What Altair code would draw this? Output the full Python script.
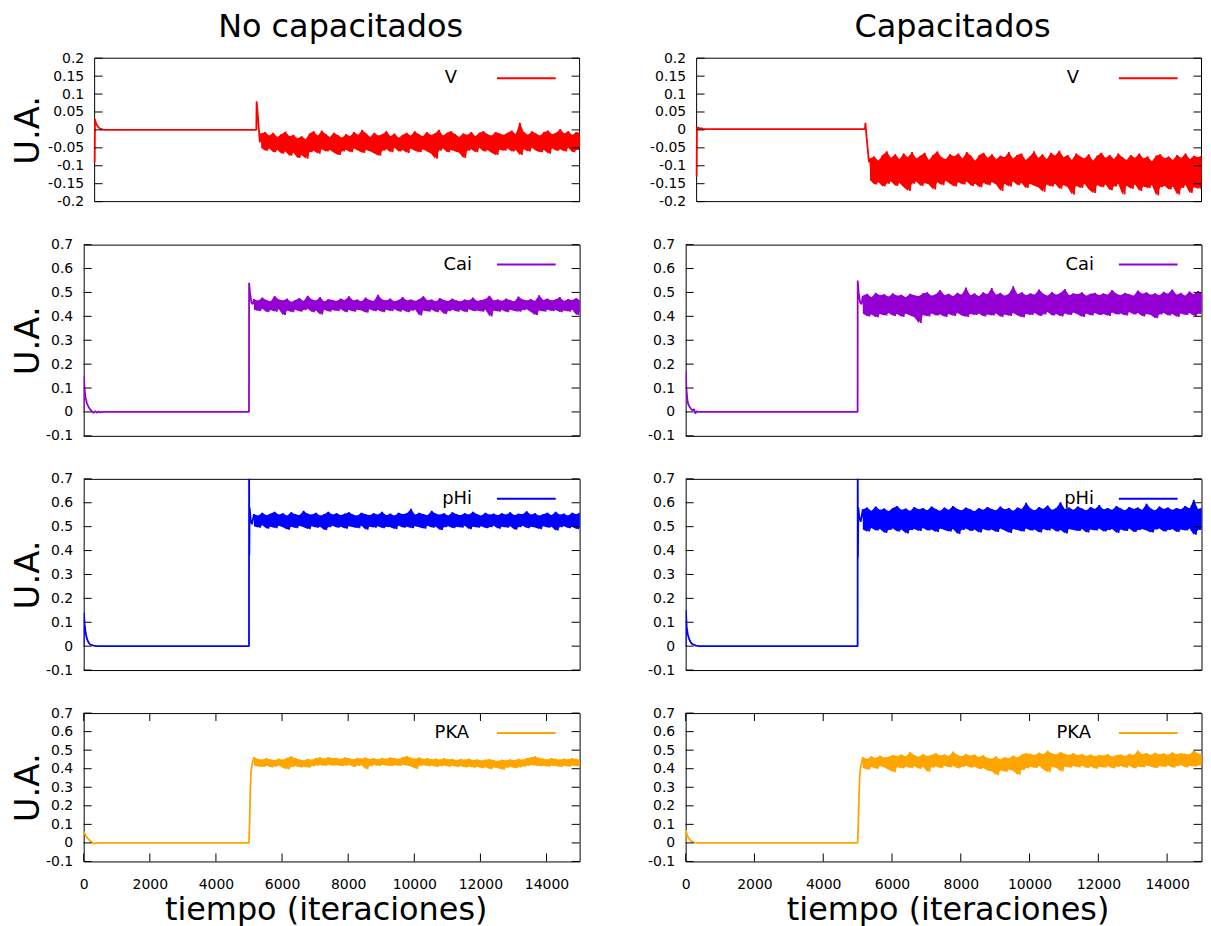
import altair as alt
import pandas as pd

FONT = "DejaVu Sans"
X_DOMAIN = [0, 15000]
X_TICKS = [0, 2000, 4000, 6000, 8000, 10000, 12000, 14000]
Y_TICKS_V = [-0.2, -0.15, -0.1, -0.05, 0, 0.05, 0.1, 0.15, 0.2]
Y_TICKS_O = [-0.1, 0, 0.1, 0.2, 0.3, 0.4, 0.5, 0.6, 0.7]
COL_TITLES = ["No capacitados", "Capacitados"]
X_TITLE = "tiempo (iteraciones)"
Y_TITLE = "U.A."
NAMES = ["V", "Cai", "pHi", "PKA"]
COLORS = ["#ff0000", "#9400d3", "#0000ff", "#ffa500"]

# noise part: local maxima (hi) and minima (lo), every 125 iterations from 5150
NOISE_X0 = 5150
NOISE_STEP = 125

# ---------------- V, no capacitados ----------------
v_nc_start_x = [0, 10, 40, 80, 130, 200, 300, 5000]
v_nc_start_y = [-0.09, 0.03, 0.02, 0.012, 0.006, 0.002, 0.0, 0.0]
v_nc_jump_x = [5010, 5040, 5080, 5110]
v_nc_jump_y = [0.08, 0.05, 0.0, -0.035]
v_nc_hi = [-0.010, -0.006, -0.016, -0.008, -0.020, -0.012, -0.005, -0.018, -0.014, -0.024,
           -0.018, -0.026, -0.010, -0.004, -0.016, -0.002, -0.012, -0.020, -0.008, -0.015,
           -0.022, -0.012, -0.018, -0.006, -0.014, 0.000, -0.010, -0.020, -0.008, -0.016,
           -0.012, -0.004, -0.018, -0.010, -0.022, -0.014, -0.008, -0.016, -0.004, -0.012,
           -0.018, -0.006, -0.014, -0.010, 0.000, -0.016, -0.008, -0.004, -0.012, -0.020,
           -0.010, -0.014, -0.006, -0.018, -0.008, -0.004, -0.012, -0.016, -0.006, -0.010,
           -0.014, -0.008, -0.002, -0.012, 0.020, -0.006, -0.014, -0.004, -0.010, -0.016,
           -0.006, -0.002, -0.012, -0.008, 0.002, -0.010, -0.004, -0.014, -0.006, -0.010]
v_nc_lo = [-0.050, -0.058, -0.052, -0.062, -0.056, -0.066, -0.060, -0.072, -0.064, -0.078,
           -0.070, -0.080, -0.062, -0.058, -0.066, -0.054, -0.060, -0.056, -0.064, -0.070,
           -0.060, -0.055, -0.062, -0.052, -0.058, -0.064, -0.056, -0.060, -0.066, -0.072,
           -0.058, -0.054, -0.062, -0.050, -0.060, -0.056, -0.064, -0.052, -0.058, -0.062,
           -0.054, -0.060, -0.066, -0.080, -0.058, -0.052, -0.062, -0.056, -0.060, -0.064,
           -0.078, -0.058, -0.054, -0.062, -0.050, -0.060, -0.056, -0.064, -0.070, -0.055,
           -0.058, -0.052, -0.060, -0.056, -0.070, -0.054, -0.060, -0.050, -0.058, -0.062,
           -0.056, -0.066, -0.052, -0.058, -0.054, -0.060, -0.050, -0.062, -0.056, -0.052]

# ---------------- V, capacitados ----------------
v_c_start_x = [0, 8, 20, 40, 60, 90, 130, 180, 250, 5000]
v_c_start_y = [-0.13, 0.0, 0.008, 0.002, 0.007, 0.002, 0.005, 0.003, 0.002, 0.002]
v_c_jump_x = [5015, 5050, 5090, 5120]
v_c_jump_y = [0.02, -0.02, -0.06, -0.09]
v_c_hi = [-0.080, -0.074, -0.086, -0.070, -0.060, -0.078, -0.068, -0.082, -0.066, -0.076,
          -0.062, -0.080, -0.072, -0.064, -0.084, -0.070, -0.060, -0.076, -0.082, -0.068,
          -0.074, -0.066, -0.080, -0.062, -0.072, -0.086, -0.070, -0.064, -0.078, -0.068,
          -0.082, -0.072, -0.076, -0.062, -0.080, -0.070, -0.066, -0.084, -0.074, -0.060,
          -0.078, -0.068, -0.082, -0.064, -0.072, -0.058, -0.076, -0.070, -0.084, -0.066,
          -0.074, -0.080, -0.068, -0.086, -0.072, -0.064, -0.078, -0.070, -0.082, -0.066,
          -0.076, -0.084, -0.070, -0.078, -0.066, -0.080, -0.074, -0.088, -0.072, -0.068,
          -0.080, -0.074, -0.084, -0.070, -0.078, -0.066, -0.082, -0.072, -0.076, -0.070]
v_c_lo = [-0.140, -0.152, -0.146, -0.158, -0.150, -0.144, -0.156, -0.148, -0.160, -0.170,
          -0.150, -0.144, -0.156, -0.148, -0.152, -0.166, -0.146, -0.154, -0.142, -0.150,
          -0.158, -0.146, -0.152, -0.144, -0.156, -0.150, -0.160, -0.148, -0.154, -0.146,
          -0.152, -0.170, -0.150, -0.158, -0.144, -0.154, -0.148, -0.162, -0.150, -0.156,
          -0.160, -0.172, -0.152, -0.158, -0.150, -0.164, -0.154, -0.160, -0.180, -0.156,
          -0.162, -0.150, -0.166, -0.176, -0.154, -0.160, -0.152, -0.168, -0.158, -0.150,
          -0.180, -0.156, -0.164, -0.152, -0.170, -0.158, -0.162, -0.154, -0.182, -0.160,
          -0.156, -0.166, -0.158, -0.180, -0.162, -0.154, -0.176, -0.160, -0.164, -0.150]

# ---------------- Cai, no capacitados ----------------
cai_nc_start_x = [0, 8, 25, 50, 100, 150, 200, 250, 300, 350, 400, 450, 500, 560, 5000]
cai_nc_start_y = [0.0, 0.15, 0.1, 0.065, 0.035, 0.02, 0.01, 0.002, -0.004, 0.003, -0.003, 0.002, -0.002, 0.0, 0.0]
cai_nc_jump_x = [5003, 5030, 5070, 5110]
cai_nc_jump_y = [0.54, 0.5, 0.46, 0.45]
cai_nc_hi = [0.472, 0.465, 0.478, 0.468, 0.462, 0.485, 0.470, 0.466, 0.474, 0.460,
             0.468, 0.476, 0.464, 0.486, 0.470, 0.466, 0.480, 0.462, 0.472, 0.468,
             0.464, 0.474, 0.468, 0.484, 0.466, 0.470, 0.462, 0.478, 0.468, 0.464,
             0.490, 0.470, 0.466, 0.474, 0.462, 0.468, 0.480, 0.466, 0.470, 0.464,
             0.472, 0.484, 0.466, 0.470, 0.462, 0.476, 0.468, 0.464, 0.474, 0.466,
             0.462, 0.470, 0.466, 0.478, 0.464, 0.468, 0.472, 0.486, 0.466, 0.470,
             0.464, 0.474, 0.468, 0.462, 0.482, 0.470, 0.466, 0.472, 0.464, 0.488,
             0.468, 0.474, 0.466, 0.470, 0.480, 0.464, 0.472, 0.468, 0.476, 0.466]
cai_nc_lo = [0.428, 0.422, 0.432, 0.418, 0.426, 0.420, 0.430, 0.406, 0.424, 0.418,
             0.428, 0.420, 0.426, 0.432, 0.418, 0.424, 0.408, 0.428, 0.420, 0.426,
             0.422, 0.430, 0.418, 0.426, 0.420, 0.428, 0.424, 0.416, 0.430, 0.422,
             0.426, 0.418, 0.428, 0.422, 0.430, 0.420, 0.426, 0.418, 0.424, 0.428,
             0.404, 0.424, 0.420, 0.428, 0.418, 0.426, 0.410, 0.422, 0.428, 0.420,
             0.426, 0.418, 0.430, 0.422, 0.424, 0.420, 0.428, 0.400, 0.424, 0.420,
             0.426, 0.418, 0.428, 0.422, 0.420, 0.426, 0.430, 0.418, 0.406, 0.424,
             0.420, 0.428, 0.422, 0.426, 0.418, 0.424, 0.420, 0.428, 0.406, 0.422]

# ---------------- Cai, capacitados ----------------
cai_c_start_x = [0, 6, 20, 50, 80, 120, 160, 200, 240, 280, 320, 360, 5000]
cai_c_start_y = [0.11, 0.17, 0.1, 0.05, 0.03, 0.02, 0.012, 0.006, 0.012, -0.006, 0.002, 0.0, 0.0]
cai_c_jump_x = [5003, 5030, 5070, 5110]
cai_c_jump_y = [0.55, 0.5, 0.46, 0.45]
cai_c_hi = [0.486, 0.494, 0.480, 0.498, 0.488, 0.492, 0.482, 0.496, 0.486, 0.490,
            0.480, 0.494, 0.488, 0.484, 0.496, 0.500, 0.486, 0.492, 0.510, 0.488,
            0.494, 0.484, 0.498, 0.490, 0.520, 0.488, 0.496, 0.484, 0.500, 0.492,
            0.518, 0.490, 0.498, 0.486, 0.494, 0.526, 0.492, 0.500, 0.488, 0.496,
            0.490, 0.512, 0.494, 0.486, 0.502, 0.490, 0.498, 0.514, 0.488, 0.496,
            0.492, 0.500, 0.486, 0.494, 0.498, 0.488, 0.496, 0.490, 0.510, 0.494,
            0.488, 0.498, 0.492, 0.486, 0.508, 0.494, 0.500, 0.490, 0.496, 0.488,
            0.502, 0.494, 0.512, 0.490, 0.498, 0.486, 0.504, 0.492, 0.506, 0.496]
cai_c_lo = [0.412, 0.400, 0.408, 0.396, 0.410, 0.404, 0.414, 0.402, 0.410, 0.398,
            0.412, 0.404, 0.396, 0.372, 0.406, 0.400, 0.412, 0.404, 0.408, 0.398,
            0.410, 0.402, 0.414, 0.404, 0.398, 0.410, 0.406, 0.412, 0.400, 0.408,
            0.404, 0.412, 0.398, 0.408, 0.402, 0.414, 0.404, 0.396, 0.410, 0.406,
            0.414, 0.402, 0.408, 0.418, 0.404, 0.410, 0.400, 0.412, 0.406, 0.416,
            0.408, 0.398, 0.412, 0.404, 0.414, 0.406, 0.410, 0.402, 0.416, 0.408,
            0.412, 0.404, 0.418, 0.408, 0.414, 0.400, 0.410, 0.406, 0.392, 0.408,
            0.414, 0.404, 0.410, 0.398, 0.412, 0.406, 0.414, 0.402, 0.410, 0.418]

# ---------------- pHi, no capacitados ----------------
phi_nc_start_x = [0, 6, 30, 60, 100, 150, 200, 300, 400, 5000]
phi_nc_start_y = [0.0, 0.14, 0.09, 0.055, 0.03, 0.015, 0.007, 0.002, 0.0, 0.0]
phi_nc_jump_x = [5003, 5010, 5020, 5050, 5090]
phi_nc_jump_y = [0.8, 0.38, 0.58, 0.53, 0.51]
phi_nc_hi = [0.552, 0.546, 0.558, 0.548, 0.554, 0.562, 0.550, 0.556, 0.546, 0.560,
             0.552, 0.548, 0.566, 0.554, 0.550, 0.558, 0.546, 0.552, 0.562, 0.550,
             0.556, 0.548, 0.554, 0.560, 0.550, 0.546, 0.558, 0.552, 0.548, 0.556,
             0.550, 0.562, 0.548, 0.554, 0.546, 0.558, 0.552, 0.556, 0.574, 0.550,
             0.558, 0.552, 0.548, 0.566, 0.554, 0.550, 0.556, 0.546, 0.560, 0.552,
             0.548, 0.556, 0.550, 0.562, 0.552, 0.546, 0.558, 0.550, 0.554, 0.548,
             0.556, 0.550, 0.560, 0.548, 0.554, 0.552, 0.564, 0.550, 0.556, 0.546,
             0.552, 0.558, 0.548, 0.562, 0.550, 0.554, 0.546, 0.558, 0.552, 0.560]
phi_nc_lo = [0.502, 0.496, 0.506, 0.492, 0.500, 0.494, 0.504, 0.498, 0.488, 0.500,
             0.494, 0.504, 0.498, 0.490, 0.502, 0.496, 0.500, 0.486, 0.498, 0.504,
             0.496, 0.500, 0.492, 0.502, 0.498, 0.494, 0.504, 0.488, 0.500, 0.496,
             0.502, 0.494, 0.500, 0.498, 0.490, 0.504, 0.496, 0.500, 0.494, 0.502,
             0.498, 0.492, 0.504, 0.496, 0.500, 0.486, 0.498, 0.502, 0.494, 0.500,
             0.496, 0.504, 0.490, 0.500, 0.496, 0.502, 0.494, 0.498, 0.504, 0.492,
             0.500, 0.496, 0.502, 0.488, 0.498, 0.504, 0.494, 0.500, 0.496, 0.490,
             0.502, 0.496, 0.500, 0.484, 0.498, 0.502, 0.494, 0.500, 0.490, 0.498]

# ---------------- pHi, capacitados ----------------
phi_c_start_x = [0, 6, 30, 60, 100, 150, 200, 300, 400, 5000]
phi_c_start_y = [0.0, 0.15, 0.08, 0.05, 0.03, 0.015, 0.008, 0.002, 0.0, 0.0]
phi_c_jump_x = [5003, 5010, 5020, 5050, 5090]
phi_c_jump_y = [0.8, 0.37, 0.58, 0.54, 0.52]
phi_c_hi = [0.572, 0.580, 0.566, 0.584, 0.570, 0.576, 0.564, 0.578, 0.586, 0.570,
            0.576, 0.566, 0.582, 0.572, 0.578, 0.568, 0.584, 0.574, 0.566, 0.580,
            0.570, 0.586, 0.574, 0.568, 0.580, 0.572, 0.564, 0.578, 0.570, 0.582,
            0.574, 0.568, 0.584, 0.572, 0.578, 0.566, 0.580, 0.574, 0.600, 0.576,
            0.568, 0.582, 0.574, 0.588, 0.570, 0.578, 0.602, 0.574, 0.580, 0.570,
            0.584, 0.576, 0.568, 0.582, 0.574, 0.590, 0.572, 0.578, 0.570, 0.586,
            0.576, 0.568, 0.582, 0.574, 0.580, 0.570, 0.596, 0.576, 0.568, 0.584,
            0.574, 0.580, 0.570, 0.578, 0.572, 0.586, 0.576, 0.612, 0.574, 0.580]
phi_c_lo = [0.488, 0.480, 0.494, 0.484, 0.490, 0.474, 0.486, 0.492, 0.480, 0.488,
            0.472, 0.486, 0.490, 0.482, 0.494, 0.484, 0.488, 0.478, 0.492, 0.486,
            0.480, 0.490, 0.470, 0.486, 0.492, 0.482, 0.488, 0.476, 0.490, 0.484,
            0.488, 0.478, 0.492, 0.484, 0.474, 0.490, 0.486, 0.480, 0.492, 0.484,
            0.488, 0.476, 0.490, 0.484, 0.492, 0.480, 0.486, 0.472, 0.490, 0.486,
            0.482, 0.490, 0.476, 0.488, 0.484, 0.492, 0.480, 0.486, 0.490, 0.474,
            0.488, 0.482, 0.492, 0.478, 0.486, 0.490, 0.484, 0.476, 0.488, 0.492,
            0.480, 0.486, 0.490, 0.478, 0.488, 0.484, 0.492, 0.466, 0.486, 0.490]

# ---------------- PKA, no capacitados ----------------
pka_nc_start_x = [0, 20, 50, 80, 120, 160, 200, 250, 300, 350, 420, 5000]
pka_nc_start_y = [0.06, 0.055, 0.045, 0.035, 0.025, 0.018, 0.01, 0.004, -0.004, -0.002, 0.0, 0.0]
pka_nc_jump_x = [5020, 5040, 5060, 5090, 5120]
pka_nc_jump_y = [0.12, 0.28, 0.38, 0.42, 0.44]
pka_nc_hi = [0.462, 0.452, 0.448, 0.456, 0.450, 0.446, 0.454, 0.448, 0.458, 0.466,
             0.456, 0.450, 0.444, 0.452, 0.448, 0.456, 0.460, 0.454, 0.462, 0.456,
             0.458, 0.452, 0.460, 0.456, 0.450, 0.458, 0.454, 0.460, 0.452, 0.456,
             0.450, 0.458, 0.454, 0.460, 0.456, 0.452, 0.462, 0.468, 0.458, 0.454,
             0.460, 0.452, 0.456, 0.450, 0.454, 0.448, 0.456, 0.450, 0.452, 0.446,
             0.452, 0.448, 0.454, 0.446, 0.450, 0.444, 0.448, 0.452, 0.446, 0.442,
             0.448, 0.444, 0.450, 0.446, 0.452, 0.448, 0.456, 0.460, 0.466, 0.458,
             0.454, 0.450, 0.456, 0.452, 0.448, 0.454, 0.450, 0.456, 0.452, 0.448]
pka_nc_lo = [0.418, 0.412, 0.410, 0.416, 0.408, 0.412, 0.418, 0.404, 0.398, 0.410,
             0.414, 0.408, 0.412, 0.406, 0.414, 0.418, 0.420, 0.416, 0.422, 0.418,
             0.420, 0.414, 0.418, 0.422, 0.410, 0.416, 0.420, 0.398, 0.414, 0.420,
             0.416, 0.422, 0.418, 0.414, 0.420, 0.416, 0.422, 0.418, 0.412, 0.400,
             0.416, 0.420, 0.414, 0.418, 0.410, 0.414, 0.418, 0.412, 0.416, 0.410,
             0.414, 0.408, 0.412, 0.406, 0.410, 0.404, 0.408, 0.398, 0.406, 0.402,
             0.396, 0.406, 0.410, 0.404, 0.408, 0.412, 0.416, 0.420, 0.418, 0.414,
             0.416, 0.412, 0.418, 0.414, 0.410, 0.416, 0.412, 0.418, 0.414, 0.420]

# ---------------- PKA, capacitados ----------------
pka_c_start_x = [0, 5, 30, 60, 100, 150, 200, 260, 320, 5000]
pka_c_start_y = [0.0, 0.07, 0.05, 0.035, 0.022, 0.012, 0.006, 0.002, 0.0, 0.0]
pka_c_jump_x = [5020, 5040, 5060, 5090, 5120]
pka_c_jump_y = [0.1, 0.25, 0.36, 0.41, 0.43]
pka_c_hi = [0.462, 0.452, 0.466, 0.458, 0.470, 0.460, 0.464, 0.474, 0.468, 0.476,
            0.466, 0.490, 0.472, 0.464, 0.478, 0.468, 0.474, 0.484, 0.470, 0.476,
            0.468, 0.492, 0.474, 0.466, 0.480, 0.470, 0.476, 0.462, 0.472, 0.458,
            0.454, 0.466, 0.450, 0.462, 0.456, 0.470, 0.460, 0.476, 0.484, 0.480,
            0.474, 0.486, 0.478, 0.496, 0.482, 0.476, 0.490, 0.480, 0.474, 0.484,
            0.472, 0.480, 0.468, 0.476, 0.466, 0.474, 0.470, 0.478, 0.464, 0.472,
            0.476, 0.468, 0.480, 0.472, 0.498, 0.478, 0.484, 0.474, 0.486, 0.476,
            0.482, 0.474, 0.488, 0.478, 0.484, 0.480, 0.476, 0.498, 0.482, 0.478]
pka_c_lo = [0.404, 0.396, 0.410, 0.400, 0.414, 0.406, 0.394, 0.382, 0.408, 0.402,
            0.412, 0.404, 0.414, 0.400, 0.410, 0.384, 0.406, 0.412, 0.404, 0.416,
            0.408, 0.414, 0.402, 0.410, 0.416, 0.406, 0.412, 0.398, 0.404, 0.390,
            0.386, 0.366, 0.392, 0.384, 0.396, 0.388, 0.368, 0.394, 0.402, 0.410,
            0.404, 0.414, 0.396, 0.382, 0.410, 0.404, 0.386, 0.412, 0.406, 0.414,
            0.408, 0.416, 0.404, 0.412, 0.400, 0.410, 0.406, 0.414, 0.402, 0.410,
            0.414, 0.406, 0.416, 0.402, 0.412, 0.408, 0.418, 0.410, 0.404, 0.414,
            0.410, 0.418, 0.406, 0.414, 0.420, 0.408, 0.416, 0.412, 0.418, 0.422]

# ---------------- layout / style ----------------
TICK = 8
LEG_Y = 20
LEG_OFF = {"V": 123, "Cai": 108, "pHi": 108, "PKA": 111}
WIDTHS = [498, 518]            # plot width of each column
ROW1_SHIFT = 11                # top row frame starts further right (wider tick labels)
HEIGHTS = [144, 192, 192, 149]
EXTENT = 38
XTITLE_X = [243, 263]
XTITLE_Y = 58
COL_TITLE_DX = [3.5, 3.5]
COL_TITLE_Y = -21.5
LABEL_EXPR = "datum.value < 0 ? '-' + format(-datum.value, '~g') : format(datum.value, '~g')"


def build(sx, sy, jx, jy, hi, lo):
    xs = list(sx) + list(jx)
    ys = list(sy) + list(jy)
    for k in range(len(hi)):
        xs += [NOISE_X0 + NOISE_STEP * k, NOISE_X0 + NOISE_STEP * k + NOISE_STEP / 2]
        ys += [hi[k], lo[k]]
    return xs, ys


SERIES = {
    (0, 0): (v_nc_start_x, v_nc_start_y, v_nc_jump_x, v_nc_jump_y, v_nc_hi, v_nc_lo),
    (0, 1): (v_c_start_x, v_c_start_y, v_c_jump_x, v_c_jump_y, v_c_hi, v_c_lo),
    (1, 0): (cai_nc_start_x, cai_nc_start_y, cai_nc_jump_x, cai_nc_jump_y, cai_nc_hi, cai_nc_lo),
    (1, 1): (cai_c_start_x, cai_c_start_y, cai_c_jump_x, cai_c_jump_y, cai_c_hi, cai_c_lo),
    (2, 0): (phi_nc_start_x, phi_nc_start_y, phi_nc_jump_x, phi_nc_jump_y, phi_nc_hi, phi_nc_lo),
    (2, 1): (phi_c_start_x, phi_c_start_y, phi_c_jump_x, phi_c_jump_y, phi_c_hi, phi_c_lo),
    (3, 0): (pka_nc_start_x, pka_nc_start_y, pka_nc_jump_x, pka_nc_jump_y, pka_nc_hi, pka_nc_lo),
    (3, 1): (pka_c_start_x, pka_c_start_y, pka_c_jump_x, pka_c_jump_y, pka_c_hi, pka_c_lo),
}


def panel(row, col):
    name, color = NAMES[row], COLORS[row]
    W, H = WIDTHS[col], HEIGHTS[row]
    x0 = ROW1_SHIFT if row == 0 else 0
    yticks = Y_TICKS_V if row == 0 else Y_TICKS_O
    ydom = [yticks[0], yticks[-1]]
    sx, sy, jx, jy, hi, lo = SERIES[(row, col)]
    xs, ys = build(sx, sy, jx, jy, hi, lo)
    df = pd.DataFrame({"x": xs, "y": ys, "o": list(range(len(xs)))})
    band = pd.DataFrame({"x": [NOISE_X0 + NOISE_STEP * k for k in range(len(hi))],
                         "hi": hi, "lo": lo})
    if x0:
        xscale = alt.Scale(domain=X_DOMAIN, nice=False, zero=False, range=[x0, W])
    else:
        xscale = alt.Scale(domain=X_DOMAIN, nice=False, zero=False)
    yscale = alt.Scale(domain=ydom, nice=False, zero=False)
    yaxis = alt.Axis(values=yticks, labelExpr=LABEL_EXPR, title=Y_TITLE,
                     titleColor="black" if col == 0 else "white", titleFontSize=34,
                     minExtent=EXTENT + x0, maxExtent=EXTENT + x0, titlePadding=0,
                     offset=-x0)
    bottom = row == 3
    if bottom:
        xaxis = alt.Axis(values=X_TICKS, format="d", labelFlush=False, labelOverlap=False,
                         labelPadding=16, title=X_TITLE, titleX=XTITLE_X[col],
                         titleY=XTITLE_Y, titleBaseline="alphabetic", titleAlign="center")
    else:
        xaxis = None

    layers = []
    if x0:
        frame = alt.Chart(pd.DataFrame({"s": [name]})).mark_rect(
            fill="transparent", stroke="black", strokeWidth=1).encode(
            x=alt.value(x0), x2=alt.value(W), y=alt.value(0), y2=alt.value(H))
        layers.append(frame)
    area = alt.Chart(band).mark_area(color=color, clip=True, opacity=1).encode(
        x=alt.X("x:Q", scale=xscale, axis=xaxis),
        y=alt.Y("hi:Q", scale=yscale, axis=yaxis),
        y2="lo:Q",
    )
    line = alt.Chart(df).mark_line(color=color, strokeWidth=1.8, strokeJoin="bevel", clip=True).encode(
        x=alt.X("x:Q", scale=xscale, axis=xaxis),
        y=alt.Y("y:Q", scale=yscale, axis=yaxis),
        order="o:Q",
    )
    layers += [area, line]
    ydf = pd.DataFrame({"t": yticks})
    lt = alt.Chart(ydf).mark_rule(color="black", strokeWidth=1).encode(
        y=alt.Y("t:Q", scale=yscale, axis=yaxis), x=alt.value(x0), x2=alt.value(x0 + TICK))
    rt = alt.Chart(ydf).mark_rule(color="black", strokeWidth=1).encode(
        y=alt.Y("t:Q", scale=yscale, axis=yaxis), x=alt.value(W - TICK), x2=alt.value(W))
    layers += [lt, rt]
    if bottom:
        xdf = pd.DataFrame({"t": X_TICKS})
        bt = alt.Chart(xdf).mark_rule(color="black", strokeWidth=1).encode(
            x=alt.X("t:Q", scale=xscale, axis=xaxis), y=alt.value(H), y2=alt.value(H - TICK))
        tt = alt.Chart(xdf).mark_rule(color="black", strokeWidth=1).encode(
            x=alt.X("t:Q", scale=xscale, axis=xaxis), y=alt.value(0), y2=alt.value(TICK))
        layers += [bt, tt]
    ldf = pd.DataFrame({"s": [name]})
    ltxt = alt.Chart(ldf).mark_text(align="right", baseline="middle", font=FONT, fontSize=18,
                                    color="black").encode(
        text="s:N", x=alt.value(W - LEG_OFF[name]), y=alt.value(LEG_Y))
    lline = alt.Chart(ldf).mark_rule(color=color, strokeWidth=2).encode(
        x=alt.value(W - 83), x2=alt.value(W - 24), y=alt.value(LEG_Y))
    layers += [ltxt, lline]
    if row == 0:
        tdf = pd.DataFrame({"s": [COL_TITLES[col]]})
        ttl = alt.Chart(tdf).mark_text(align="center", baseline="alphabetic", font=FONT,
                                       fontSize=32, color="black").encode(
            text="s:N", x=alt.value((x0 + W) / 2 + COL_TITLE_DX[col]), y=alt.value(COL_TITLE_Y))
        layers.append(ttl)
    ch = alt.layer(*layers).properties(width=W, height=H)
    if x0:
        ch = ch.properties(view=alt.ViewBackground(stroke="transparent"))
    return ch


panels = [panel(r, c) for r in range(4) for c in range(2)]

chart = alt.concat(*panels, columns=2,
                   spacing={"row": 27.2, "column": 32.5}).properties(
    padding={"left": 3, "top": 0.5, "right": 0, "bottom": 0}
).configure_view(stroke="black", strokeWidth=1).configure_axis(
    grid=False, domain=False, ticks=False, tickSize=0,
    labelFont=FONT, labelFontSize=14, labelColor="black", labelPadding=11,
    titleFont=FONT, titleFontSize=32, titleFontWeight="normal", titleColor="black",
)

chart.save("out.html", embed_options={"renderer": "svg", "actions": False})
